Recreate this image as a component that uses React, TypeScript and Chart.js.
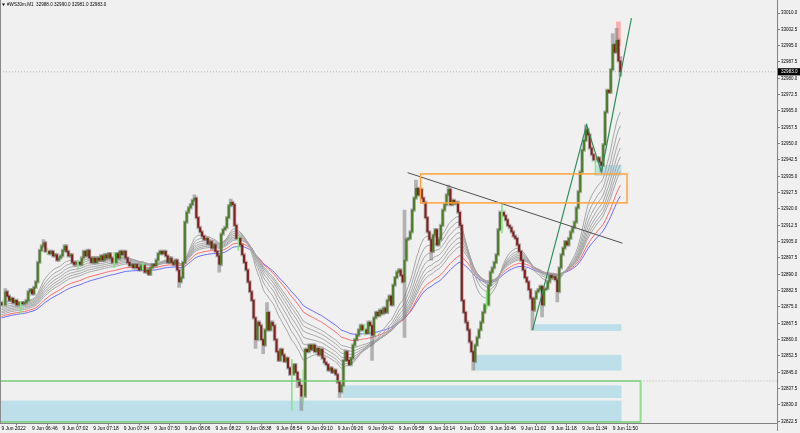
import React, { useEffect, useRef } from "react";
import { Chart, registerables } from "chart.js";

Chart.register(...registerables);

// ---------------- data ----------------
const symbolName = "#WS30m,M1";
const firstOpen = 32877;

// M1 closes, one per bar (bar 0 = 9 Jun 06:30)
const closes: number[] = [
  32876, 32876, 32882, 32880, 32878, 32879, 32877, 32878, 32876, 32877,
  32877, 32876.5, 32877, 32878, 32882, 32883, 32881, 32884, 32886.5, 32895.5,
  32901, 32903, 32904.5, 32900.5, 32900.5, 32899.5, 32900.5, 32898.5, 32899, 32896.5,
  32897.5, 32898.5, 32901, 32903, 32900.5, 32898.5, 32899, 32895.5, 32894.5, 32895.5,
  32895.5, 32894.5, 32897.5, 32900.5, 32898.5, 32901, 32897.5, 32895.5, 32897.5, 32895.5,
  32897.5, 32896.5, 32898.5, 32896.5, 32899, 32897.5, 32899.5, 32897.5, 32895.5, 32895.5,
  32899.5, 32897.5, 32900.5, 32899, 32900.5, 32897.5, 32895.5, 32894, 32894.5, 32893,
  32894.5, 32893, 32892, 32894, 32894, 32891, 32892, 32890, 32893, 32894.5,
  32894, 32896.5, 32899.5, 32900.5, 32899.5, 32900.5, 32898.5, 32895.5, 32897.5, 32895.5,
  32894.5, 32896.5, 32892, 32886.5, 32888.5, 32895.5, 32914, 32918.5, 32920.5, 32922,
  32924, 32925, 32916, 32911.5, 32909.5, 32907.5, 32906, 32906.5, 32904, 32905,
  32902, 32903.5, 32900.5, 32898.5, 32894.5, 32908.5, 32910.5, 32911.5, 32916, 32921.5,
  32923, 32922, 32912.5, 32906.5, 32906.5, 32903.5, 32899, 32895.5, 32892, 32886.5,
  32882, 32878, 32870, 32860, 32868, 32866.5, 32860, 32857.5, 32864.5, 32872.5,
  32864.5, 32868, 32866.5, 32860, 32854.5, 32850.5, 32855.5, 32853, 32850, 32851.5,
  32847, 32844, 32844, 32848.5, 32845, 32841.5, 32839, 32834, 32834, 32855.5,
  32854.5, 32857.5, 32855.5, 32857.5, 32854.5, 32856, 32853, 32855.5, 32851.5, 32849.5,
  32848.5, 32846, 32847, 32845, 32846, 32844, 32840.5, 32836, 32839, 32850.5,
  32854.5, 32850.5, 32848.5, 32851.5, 32857.5, 32860, 32862, 32864.5, 32866.5, 32864.5,
  32864.5, 32863, 32868, 32866.5, 32862, 32870, 32872.5, 32871, 32873.5, 32872,
  32874.5, 32872.5, 32878, 32880, 32876, 32885, 32888.5, 32891, 32892, 32889.5,
  32886.5, 32896.5, 32906, 32906.5, 32909.5, 32919.5, 32925, 32929.5, 32926.5, 32929,
  32925, 32923, 32916, 32909.5, 32906, 32900.5, 32908, 32910.5, 32903.5, 32906,
  32912.5, 32919.5, 32922, 32926.5, 32929, 32922, 32924, 32922.5, 32923, 32918.5,
  32912.5, 32878, 32872.5, 32868, 32864.5, 32859, 32854.5, 32850, 32857.5, 32861,
  32864.5, 32868, 32872.5, 32876, 32876, 32885, 32891, 32893, 32895.5, 32899,
  32910.5, 32918.5, 32918.5, 32917, 32915, 32912.5, 32911.5, 32909.5, 32907.5, 32906.5,
  32903.5, 32900.5, 32896.5, 32892, 32888.5, 32886.5, 32883, 32879, 32873.5, 32879,
  32882, 32883, 32884.5, 32876, 32883, 32883.5, 32886.5, 32889.5, 32888.5, 32889,
  32887.5, 32882, 32893, 32899, 32902, 32905, 32903.5, 32906.5, 32909.5, 32911.5,
  32914, 32920.5, 32928, 32937, 32947, 32951.5, 32956.5, 32954, 32948, 32945,
  32942.5, 32942.5, 32943.5, 32941.5, 32940, 32949.5, 32964.5, 32974.5, 32973.5, 32984,
  32995.5, 32992, 32997.5, 32988, 32983,
];

// long shadows: [bar, high, low]
const wickSpikes: Array<[number, number | null, number | null]> = [
  [1, 32878, 32875], [2, 32883.5, null], [10, 32877.5, 32872], [22, 32906, null],
  [24, 32902, 32899], [40, 32896.5, 32892], [59, 32900, 32893], [74, 32895, 32892],
  [93, null, 32884], [101, 32926.5, null], [114, null, 32891], [120, 32924.5, null],
  [124, 32907.5, 32901], [133, null, 32856], [137, null, 32853.5], [139, 32877, null],
  [152, 32851, 32827.5], [155, null, 32838], [157, null, 32827.5], [158, 32846, 32831],
  [177, null, 32833.5], [190, 32867, 32862], [194, null, 32850.5], [211, 32919.5, 32861],
  [217, 32933.3, null], [225, null, 32896.5], [234, 32931, null], [247, null, 32846],
  [254, 32882.5, 32874], [262, 32923, 32909], [278, null, 32864.4], [283, null, 32870.4],
  [291, null, 32877.3], [306, 32958.6, null], [311, 32943, 32935.5], [314, null, 32937],
  [320, 33000.5, null], [322, 33003, null], [324, 32990, 32981],
];

const shadeBar = [323];
const shadeLow = [32995];
const shadeHigh = [33006];

const maPeriods = [20, 25, 30, 35, 40, 45, 50, 62, 74];
const maStart = [32876.7, 32875.5, 32874.4, 32873.6, 32872.8, 32872.1, 32871.3, 32870.5, 32869.8];

const timeTickIndex = [0, 16, 32, 48, 64, 80, 96, 112, 128, 144, 160, 176, 192, 208, 224, 240, 256, 272, 288, 304, 320];
const timeTickLabels = [
  "9 Jun 2022", "9 Jun 06:46", "9 Jun 07:02", "9 Jun 07:18", "9 Jun 07:34", "9 Jun 07:50",
  "9 Jun 08:06", "9 Jun 08:22", "9 Jun 08:38", "9 Jun 08:54", "9 Jun 09:10", "9 Jun 09:26",
  "9 Jun 09:42", "9 Jun 09:58", "9 Jun 10:14", "9 Jun 10:30", "9 Jun 10:46", "9 Jun 11:02",
  "9 Jun 11:18", "9 Jun 11:34", "9 Jun 11:50",
];
const priceTicks = [
  33010, 33002.5, 32995, 32987.5, 32980, 32972.5, 32965, 32957.5, 32950, 32942.5,
  32935, 32927.5, 32920, 32912.5, 32905, 32897.5, 32890, 32882.5, 32875, 32867.5,
  32860, 32852.5, 32845, 32837.5, 32830, 32822.5,
];

// light-blue zones: bar from / bar to / price top / price bottom
const zoneStart = [311.5, 279, 247.1, 178.5, -1.2];
const zoneEnd = [324.6, 324.6, 324.6, 324.6, 324.6];
const zoneTop = [32940.2, 32867.1, 32853.0, 32839.0, 32832.0];
const zoneBottom = [32935.2, 32864.0, 32845.8, 32833.2, 32822.2];

const orangeBox = [219.4, 327.5, 32936.1, 32922.8];
const greenBox = [-1.2, 334.6, 32841.0, 32822.2];

const trendX = [212.6, 325.1];
const trendY = [32936.7, 32904.3];
const zigzagX = [278.0, 306.3, 314.1, 329.8];
const zigzagY = [32864.4, 32958.6, 32937.0, 33007.6];
const levelX = [334.6, 406];
const levelY = 32841.0;

// ---------------- scale ranges ----------------
const X_MIN = -0.785;
const X_MAX = 406.02;
const Y_MIN = 32821.49;
const Y_MAX = 33015.97;

const FONT = "Liberation Sans";

function buildChart(canvas: HTMLCanvasElement) {
  const n = closes.length;
  const opens = closes.map((c, i) => (i === 0 ? firstOpen : closes[i - 1]));
  const spikeMap = new Map<number, [number, number | null, number | null]>();
  wickSpikes.forEach((s) => spikeMap.set(s[0], s));
  const WICK = 0.6;
  const highs = closes.map((c, i) => {
    const top = Math.max(opens[i], c);
    const s = spikeMap.get(i);
    return s && s[1] != null ? Math.max(s[1], top) : top + WICK;
  });
  const lows = closes.map((c, i) => {
    const bot = Math.min(opens[i], c);
    const s = spikeMap.get(i);
    return s && s[2] != null ? Math.min(s[2], bot) : bot - WICK;
  });

  const wickData: any[] = [];
  const dojiData: any[] = [];
  const bodyData: any[] = [];
  const bodyColors: string[] = [];
  for (let i = 0; i < n; i++) {
    if (opens[i] === closes[i]) {
      dojiData.push({ x: i, y: [lows[i], highs[i]] });
    } else {
      wickData.push({ x: i, y: [lows[i], highs[i]] });
      bodyData.push({ x: i, y: [opens[i], closes[i]] });
      bodyColors.push(closes[i] > opens[i] ? "#4a7f24" : "#861c1c");
    }
  }

  const maColors = ["#a6a6a6", "#a6a6a6", "#a6a6a6", "#a6a6a6", "#a6a6a6", "#a6a6a6", "#a6a6a6", "#ff6a6a", "#6a6aff"];
  const maSets = maPeriods.map((p, k) => {
    const a = 2 / (p + 1);
    let v = maStart[k];
    const pts = closes.map((c, i) => {
      v = v + a * (c - v);
      return { x: i, y: v };
    });
    return {
      type: "line" as const,
      data: pts,
      borderColor: maColors[k],
      borderWidth: 1,
      pointRadius: 0,
      fill: false,
      tension: 0,
      order: 5,
    };
  });

  const lastClose = closes[n - 1];

  const overlay = {
    id: "mtOverlay",
    beforeDraw(chart: any) {
      const ctx = chart.ctx;
      ctx.save();
      ctx.fillStyle = "#f0f0f0";
      ctx.fillRect(0, 0, chart.width, chart.height);
      ctx.restore();
    },
    beforeDatasetsDraw(chart: any) {
      const { ctx, chartArea: ca, scales } = chart;
      const xs = scales.x, ys = scales.y;
      ctx.save();
      ctx.beginPath();
      ctx.rect(ca.left, ca.top, ca.right - ca.left, ca.bottom - ca.top);
      ctx.clip();
      ctx.fillStyle = "#bcdfea";
      for (let k = 0; k < zoneStart.length; k++) {
        const x1 = xs.getPixelForValue(zoneStart[k]);
        const x2 = xs.getPixelForValue(zoneEnd[k]);
        const y1 = ys.getPixelForValue(zoneTop[k]);
        const y2 = ys.getPixelForValue(zoneBottom[k]);
        ctx.fillRect(x1, y1, x2 - x1, y2 - y1);
      }
      ctx.restore();
    },
    afterDatasetsDraw(chart: any) {
      const { ctx, chartArea: ca, scales } = chart;
      const xs = scales.x, ys = scales.y;
      ctx.save();
      ctx.beginPath();
      ctx.rect(ca.left, ca.top, ca.right - ca.left, ca.bottom - ca.top);
      ctx.clip();
      {
        const x1 = xs.getPixelForValue(orangeBox[0]);
        const x2 = xs.getPixelForValue(orangeBox[1]);
        const y1 = ys.getPixelForValue(orangeBox[2]);
        const y2 = ys.getPixelForValue(orangeBox[3]);
        ctx.strokeStyle = "#ffa33a";
        ctx.lineWidth = 1.5;
        ctx.strokeRect(x1, y1, x2 - x1, y2 - y1);
      }
      {
        const x1 = xs.getPixelForValue(greenBox[0]);
        const x2 = xs.getPixelForValue(greenBox[1]);
        const y1 = ys.getPixelForValue(greenBox[2]);
        const y2 = ys.getPixelForValue(greenBox[3]);
        ctx.strokeStyle = "#62c862";
        ctx.lineWidth = 1.3;
        ctx.strokeRect(x1, y1, x2 - x1, y2 - y1);
        ctx.strokeStyle = "#8fe08f";
        ctx.lineWidth = 1.8;
        ctx.beginPath();
        ctx.moveTo(x2, y1);
        ctx.lineTo(x2, y2);
        ctx.stroke();
      }
      ctx.restore();
    },
    afterDraw(chart: any) {
      const { ctx, chartArea: ca, scales } = chart;
      const ys = scales.y;
      ctx.save();
      ctx.strokeStyle = "#8a8a8a";
      ctx.lineWidth = 1;
      ctx.beginPath();
      ctx.moveTo(0.5, 0);
      ctx.lineTo(0.5, ca.bottom);
      ctx.moveTo(Math.round(ca.right) + 0.5, ca.bottom);
      ctx.lineTo(Math.round(ca.right) + 0.5, 431);
      ctx.stroke();
      const py = ys.getPixelForValue(lastClose);
      ctx.fillStyle = "#000000";
      ctx.fillRect(ca.right + 1, py - 3.6, chart.width - ca.right - 1, 7.2);
      ctx.fillStyle = "#ffffff";
      ctx.font = `4.6px "${FONT}"`;
      ctx.textBaseline = "middle";
      ctx.textAlign = "left";
      ctx.fillText(lastClose.toFixed(1), ca.right + 4, py);
      ctx.fillStyle = "#000000";
      ctx.beginPath();
      ctx.moveTo(2, 3.5);
      ctx.lineTo(5, 3.5);
      ctx.lineTo(3.5, 6);
      ctx.closePath();
      ctx.fill();
      const o = opens[n - 1], h = highs[n - 1], l = lows[n - 1], c = closes[n - 1];
      ctx.font = `4.6px "${FONT}"`;
      ctx.fillText(
        `${symbolName}  ${o.toFixed(1)} ${h.toFixed(1)} ${l.toFixed(1)} ${c.toFixed(1)}`,
        7,
        5
      );
      ctx.restore();
    },
  };

  const datasets: any[] = [
    {
      type: "line",
      data: zigzagX.map((x, i) => ({ x, y: zigzagY[i] })),
      borderColor: "#2f8f5b",
      borderWidth: 1.2,
      pointRadius: 0,
      tension: 0,
      order: 0,
    },
    {
      type: "line",
      data: trendX.map((x, i) => ({ x, y: trendY[i] })),
      borderColor: "#505050",
      borderWidth: 1,
      pointRadius: 0,
      tension: 0,
      order: 0,
    },
    {
      type: "bar",
      data: bodyData,
      backgroundColor: bodyColors,
      barThickness: 1.4,
      grouped: false,
      order: 1,
    },
    {
      type: "bar",
      data: dojiData,
      backgroundColor: "#86e686",
      barThickness: 1,
      grouped: false,
      order: 2,
    },
    {
      type: "bar",
      data: wickData,
      backgroundColor: "rgba(115,115,115,0.5)",
      barThickness: 3,
      grouped: false,
      order: 3,
    },
    {
      type: "bar",
      data: shadeBar.map((x, i) => ({ x, y: [shadeLow[i], shadeHigh[i]] })),
      backgroundColor: "rgba(255,150,150,0.75)",
      barThickness: 4,
      grouped: false,
      order: 4,
    },
    ...maSets,
    {
      type: "line",
      data: [
        { x: X_MIN, y: lastClose },
        { x: X_MAX, y: lastClose },
      ],
      borderColor: "#b4b4b4",
      borderWidth: 1,
      borderDash: [1, 2],
      pointRadius: 0,
      order: 6,
    },
    {
      type: "line",
      data: levelX.map((x) => ({ x, y: levelY })),
      borderColor: "#b4b4b4",
      borderWidth: 1,
      borderDash: [1, 2],
      pointRadius: 0,
      order: 6,
    },
  ];

  return new Chart(canvas, {
    type: "bar",
    data: { datasets },
    plugins: [overlay],
    options: {
      animation: false,
      responsive: false,
      devicePixelRatio: 1,
      layout: { padding: 0 },
      plugins: { legend: { display: false }, tooltip: { enabled: false } },
      scales: {
        x: {
          type: "linear",
          position: "bottom",
          min: X_MIN,
          max: X_MAX,
          offset: false,
          afterBuildTicks: (scale: any) => {
            scale.ticks = timeTickIndex.map((v) => ({ value: v }));
          },
          afterFit: (scale: any) => {
            scale.height = 9.5;
            scale.paddingLeft = 0;
            scale.paddingRight = 0;
          },
          ticks: {
            autoSkip: false,
            maxRotation: 0,
            minRotation: 0,
            align: "start",
            padding: 0.5,
            color: "#000000",
            font: { family: FONT, size: 4.9 },
            callback: (value: any) => {
              const k = timeTickIndex.indexOf(Number(value));
              return k >= 0 ? timeTickLabels[k] : "";
            },
          },
          grid: { drawOnChartArea: false, drawTicks: true, tickLength: 2, color: "#808080" },
          border: { display: true, color: "#808080" },
        },
        y: {
          type: "linear",
          position: "right",
          min: Y_MIN,
          max: Y_MAX,
          afterBuildTicks: (scale: any) => {
            scale.ticks = priceTicks.map((v) => ({ value: v }));
          },
          afterFit: (scale: any) => {
            scale.width = 23;
            scale.paddingTop = 0;
            scale.paddingBottom = 0;
          },
          ticks: {
            autoSkip: false,
            padding: 1,
            color: "#000000",
            font: { family: FONT, size: 4.5 },
            callback: (value: any) => Number(value).toFixed(1),
          },
          grid: { drawOnChartArea: false, drawTicks: true, tickLength: 3, color: "#808080" },
          border: { display: true, color: "#808080" },
        },
      },
    } as any,
  });
}

export default function App() {
  const ref = useRef<HTMLCanvasElement>(null);
  useEffect(() => {
    document.body.style.margin = "0";
    const chart = buildChart(ref.current as HTMLCanvasElement);
    return () => chart.destroy();
  }, []);
  return (
    <div style={{ width: 800, height: 433 }}>
      <canvas ref={ref} width={800} height={433} style={{ display: "block", width: 800, height: 433 }} />
    </div>
  );
}
